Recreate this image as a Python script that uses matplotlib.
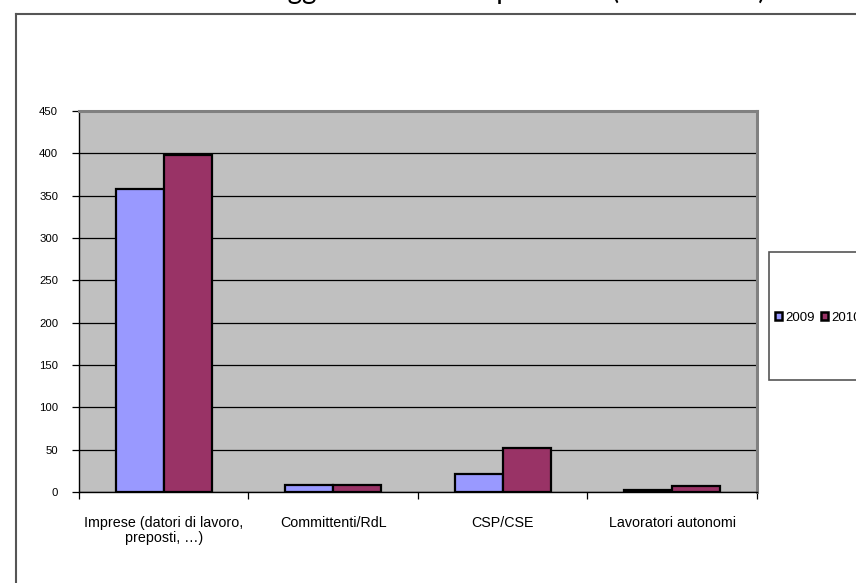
import matplotlib.pyplot as plt
import numpy as np
from matplotlib.lines import Line2D
from matplotlib.patches import Rectangle, Patch

# dati
categorie = ["Imprese (datori di lavoro,\npreposti, …)", "Committenti/RdL",
             "CSP/CSE", "Lavoratori autonomi"]
anni = ["2009", "2010"]
valori_2009 = [358, 8, 21, 2]
valori_2010 = [398, 8, 52, 7]
colori = ["#9999FF", "#993366"]
titolo = "Soggetti controllati per anno (2009-2010)"

W, H = 856, 583
fig = plt.figure(figsize=(W / 100, H / 100), dpi=100)
plt.rcParams['font.family'] = ['Liberation Sans', 'DejaVu Sans']

# titolo (tagliato dal bordo superiore)
fig.text(257 / W, 1.0 + 1 / H, titolo, fontsize=20, family=['Lato', 'DejaVu Sans'],
         ha='left', va='baseline', color='black')

# cornice del grafico
fig.add_artist(Line2D([16 / W, 16 / W], [0, 1 - 14 / H], transform=fig.transFigure,
                      color='#555555', lw=1.5))
fig.add_artist(Line2D([16 / W, 1], [1 - 14 / H, 1 - 14 / H], transform=fig.transFigure,
                      color='#555555', lw=1.5))

left, right, top, bottom = 79, 757, 111, 492
ax = fig.add_axes([left / W, 1 - bottom / H, (right - left) / W, (bottom - top) / H])
ax.set_facecolor('#C0C0C0')

x = np.arange(len(categorie)) + 0.5
w = 0.283
ax.bar(x - w / 2, valori_2009, w, color=colori[0], edgecolor='black', linewidth=1.6,
       label=anni[0], zorder=3)
ax.bar(x + w / 2, valori_2010, w, color=colori[1], edgecolor='black', linewidth=1.6,
       label=anni[1], zorder=3)

ax.set_xlim(0, 4)
ax.set_ylim(0, 450)
ax.set_yticks(np.arange(0, 451, 50))
ax.yaxis.grid(True, color='black', lw=0.9)
ax.set_axisbelow(True)
ax.tick_params(axis='y', labelsize=8.2, length=5, pad=10, width=0.9)

ax.set_xticks(x)
ax.set_xticklabels(categorie, fontsize=10.3, linespacing=1.15)
ax.set_xticks(np.arange(0, 5), minor=True)
ax.tick_params(axis='x', which='major', length=0, pad=17)
ax.tick_params(axis='x', which='minor', length=5, width=0.9)

for s in ['top', 'right']:
    ax.spines[s].set_color('#808080')
    ax.spines[s].set_linewidth(2.2)
for s in ['left', 'bottom']:
    ax.spines[s].set_color('black')
    ax.spines[s].set_linewidth(1.0)

# legenda
fig.add_artist(Rectangle((769 / W, 1 - 380 / H), 100 / W, 128 / H, transform=fig.transFigure,
                         facecolor='white', edgecolor='#555555', lw=1.2))
handles = [Patch(facecolor=c, edgecolor='black', linewidth=1.8) for c in colori]
fig.legend(handles, anni, loc='center left', bbox_to_anchor=(775 / W, 1 - 318 / H),
           ncol=2, frameon=False, fontsize=9.5, handlelength=0.55, handleheight=0.55,
           handletextpad=0.2, columnspacing=0.5, borderaxespad=0, borderpad=0)

fig.savefig('out.png', dpi=100)
